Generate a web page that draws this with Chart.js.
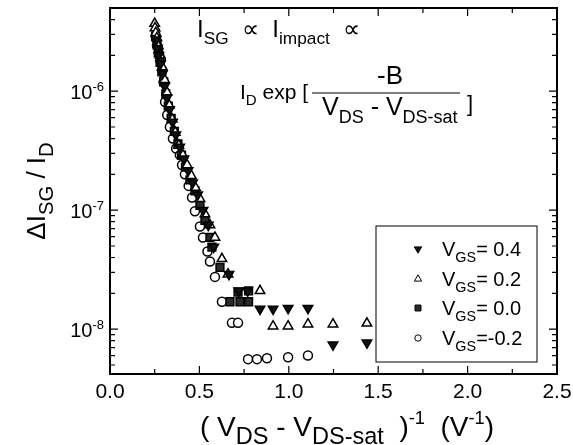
<!DOCTYPE html>
<html>
<head>
<meta charset="utf-8">
<script src="https://cdn.jsdelivr.net/npm/chart.js@4/dist/chart.umd.min.js"></script>
<style>
  html, body { margin: 0; padding: 0; background: #fff; }
  #wrap { width: 573px; height: 445px; }
</style>
</head>
<body>
<div id="wrap"><canvas id="chart" width="573" height="445"></canvas></div>
<script>
// data
var xTicks = [0, 0.5, 1.0, 1.5, 2.0, 2.5];
var xTickLabels = ['0.0', '0.5', '1.0', '1.5', '2.0', '2.5'];
var yTicks = [1e-8, 1e-7, 1e-6];
var yTickExps = ['-8', '-7', '-6'];

var vgs04X = [0.258, 0.265, 0.272, 0.282, 0.293, 0.305, 0.318, 0.333, 0.350, 0.368, 0.390, 0.413, 0.437, 0.462, 0.490, 0.520, 0.550, 0.580, 0.665, 0.720, 0.770, 0.839, 0.912, 0.996, 1.107, 1.247, 1.437];
var vgs04Y = [2.7e-6, 2.3e-6, 2.0e-6, 1.7e-6, 1.4e-6, 1.1e-6, 8.8e-7, 7.0e-7, 5.5e-7, 4.3e-7, 3.4e-7, 2.7e-7, 2.15e-7, 1.7e-7, 1.35e-7, 1.0e-7, 7.5e-8, 4.9e-8, 2.9e-8, 2.1e-8, 2.1e-8, 1.48e-8, 1.48e-8, 1.5e-8, 1.5e-8, 7.4e-9, 7.7e-9];

var vgs02X = [0.250, 0.252, 0.256, 0.262, 0.270, 0.280, 0.292, 0.305, 0.318, 0.332, 0.348, 0.365, 0.385, 0.408, 0.431, 0.455, 0.478, 0.503, 0.531, 0.559, 0.587, 0.626, 0.660, 0.839, 0.912, 0.996, 1.107, 1.247, 1.437];
var vgs02Y = [3.7e-6, 3.4e-6, 3.1e-6, 2.8e-6, 2.4e-6, 2.0e-6, 1.6e-6, 1.25e-6, 9.8e-7, 7.6e-7, 5.8e-7, 4.5e-7, 3.5e-7, 2.9e-7, 2.4e-7, 1.95e-7, 1.55e-7, 1.25e-7, 9.3e-8, 7.5e-8, 5.9e-8, 3.9e-8, 2.9e-8, 2.1e-8, 1.06e-8, 1.06e-8, 1.1e-8, 1.1e-8, 1.12e-8];

var vgs00X = [0.255, 0.262, 0.270, 0.280, 0.290, 0.300, 0.312, 0.326, 0.342, 0.360, 0.380, 0.400, 0.422, 0.447, 0.475, 0.503, 0.531, 0.559, 0.570, 0.615, 0.671, 0.716, 0.727, 0.775, 0.775];
var vgs00Y = [2.9e-6, 2.5e-6, 2.1e-6, 1.75e-6, 1.45e-6, 1.2e-6, 9.5e-7, 7.5e-7, 5.9e-7, 4.6e-7, 3.6e-7, 2.9e-7, 2.3e-7, 1.8e-7, 1.45e-7, 1.1e-7, 8.2e-8, 5.9e-8, 4.9e-8, 3.3e-8, 1.7e-8, 2.05e-8, 1.7e-8, 1.7e-8, 2.1e-8];

var vgsm02X = [0.265, 0.275, 0.285, 0.292, 0.300, 0.308, 0.320, 0.335, 0.352, 0.370, 0.391, 0.403, 0.419, 0.440, 0.459, 0.475, 0.503, 0.520, 0.545, 0.559, 0.587, 0.626, 0.682, 0.716, 0.772, 0.822, 0.878, 0.996, 1.107];
var vgsm02Y = [2.4e-6, 2.05e-6, 1.85e-6, 1.5e-6, 1.2e-6, 8.1e-7, 6.3e-7, 5.0e-7, 4.0e-7, 3.3e-7, 2.9e-7, 2.4e-7, 2.0e-7, 1.6e-7, 1.28e-7, 9.8e-8, 7.3e-8, 5.9e-8, 4.5e-8, 3.7e-8, 2.75e-8, 1.7e-8, 1.13e-8, 1.13e-8, 5.6e-9, 5.6e-9, 5.7e-9, 5.8e-9, 6.0e-9];

var FONT = "'Liberation Sans', Arial, sans-serif";

function pts(xs, ys) {
  var out = [];
  for (var i = 0; i < xs.length; i++) out.push({ x: xs[i], y: ys[i] });
  return out;
}

var series = [
  { label: '0.4', data: pts(vgs04X, vgs04Y), pointStyle: 'triangle', rotation: 180, pointRadius: 5.5, backgroundColor: '#111', borderColor: '#000' },
  { label: '0.2', data: pts(vgs02X, vgs02Y), pointStyle: 'triangle', rotation: 0, pointRadius: 5.5, backgroundColor: '#fff', borderColor: '#000' },
  { label: '0.0', data: pts(vgs00X, vgs00Y), pointStyle: 'rect', rotation: 0, pointRadius: 5.5, backgroundColor: '#2a2a2a', borderColor: '#000' },
  { label: '-0.2', data: pts(vgsm02X, vgsm02Y), pointStyle: 'circle', rotation: 0, pointRadius: 4.5, backgroundColor: '#fff', borderColor: '#000' }
];
series.forEach(function (s) {
  s.showLine = false;
  s.borderWidth = 1.5;
  s.pointHoverRadius = s.pointRadius;
});

// draw a row of text pieces: n = normal, sub = subscript, sup = superscript
function runs(ctx, parts, x, y, size, subk) {
  subk = subk || 0.72;
  ctx.textBaseline = 'alphabetic';
  ctx.textAlign = 'left';
  for (var i = 0; i < parts.length; i++) {
    var p = parts[i];
    var fs = size, dy = 0;
    if (p[1] == 'sub') { fs = size * subk; dy = size * 0.3; }
    if (p[1] == 'sup') { fs = size * 0.65; dy = -size * 0.42; }
    ctx.font = fs + 'px ' + FONT;
    ctx.fillText(p[0], x, y + dy);
    x += ctx.measureText(p[0]).width;
  }
  return x;
}
function runsWidth(ctx, parts, size, subk) {
  subk = subk || 0.72;
  var w = 0;
  for (var i = 0; i < parts.length; i++) {
    var p = parts[i];
    var fs = size;
    if (p[1] == 'sub') fs = size * subk;
    if (p[1] == 'sup') fs = size * 0.65;
    ctx.font = fs + 'px ' + FONT;
    w += ctx.measureText(p[0]).width;
  }
  return w;
}

var decorPlugin = {
  id: 'decor',
  afterDatasetsDraw: function (chart) {
    var ctx = chart.ctx;
    var a = chart.chartArea;
    var xs = chart.scales.x, ys = chart.scales.y;
    ctx.save();
    ctx.strokeStyle = '#000';
    ctx.fillStyle = '#000';

    // frame
    ctx.lineWidth = 2;
    ctx.strokeRect(a.left, a.top, a.right - a.left, a.bottom - a.top);

    // inward ticks, all four sides
    ctx.lineWidth = 1.2;
    ctx.beginPath();
    for (var v = 0; v <= 2.5001; v += 0.25) {
      var px = xs.getPixelForValue(v);
      var major = Math.abs(v * 2 - Math.round(v * 2)) < 1e-6;
      var len = major ? 8 : 5;
      ctx.moveTo(px, a.bottom); ctx.lineTo(px, a.bottom - len);
      ctx.moveTo(px, a.top); ctx.lineTo(px, a.top + len);
    }
    for (var e = -9; e <= -6; e++) {
      for (var m = 1; m <= 9; m++) {
        var val = m * Math.pow(10, e);
        if (val < ys.min || val > ys.max) continue;
        var py = ys.getPixelForValue(val);
        var l2 = m == 1 ? 8 : 5;
        ctx.moveTo(a.left, py); ctx.lineTo(a.left + l2, py);
        ctx.moveTo(a.right, py); ctx.lineTo(a.right - l2, py);
      }
    }
    ctx.stroke();

    // x tick labels
    ctx.font = '21px ' + FONT;
    ctx.textAlign = 'center';
    ctx.textBaseline = 'top';
    for (var i = 0; i < xTicks.length; i++) {
      ctx.fillText(xTickLabels[i], xs.getPixelForValue(xTicks[i]), a.bottom + 8);
    }
    // y tick labels 10^n
    for (var j = 0; j < yTicks.length; j++) {
      var yy = ys.getPixelForValue(yTicks[j]);
      var parts = [['10', 'n'], [yTickExps[j], 'sup']];
      var w = runsWidth(ctx, parts, 20);
      runs(ctx, parts, a.left - 6 - w, yy + 8, 20);
    }

    // axis titles
    runs(ctx, [['( V', 'n'], ['DS', 'sub'], [' - V', 'n'], ['DS-sat', 'sub'], ['  )', 'n'], ['-1', 'sup'], ['  (V', 'n'], ['-1', 'sup'], [')', 'n']], 200, 436, 28, 0.84);

    ctx.save();
    ctx.translate(45, (a.top + a.bottom) / 2);
    ctx.rotate(-Math.PI / 2);
    var yt = [['\u0394I', 'n'], ['SG', 'sub'], [' / I', 'n'], ['D', 'sub']];
    runs(ctx, yt, -runsWidth(ctx, yt, 26, 0.78) / 2, 0, 26, 0.78);
    ctx.restore();

    // formula annotation
    runs(ctx, [['I', 'n'], ['SG', 'sub'], ['  \u221D  I', 'n'], ['impact', 'sub'], ['  \u221D', 'n']], 197, 37, 24);
    runs(ctx, [['I', 'n'], ['D', 'sub'], [' exp [', 'n']], 240, 99, 21);
    ctx.font = '26px ' + FONT;
    ctx.textAlign = 'center';
    ctx.fillText('-B', 390, 84);
    ctx.lineWidth = 1;
    ctx.beginPath();
    ctx.moveTo(312, 93); ctx.lineTo(460, 93);
    ctx.stroke();
    runs(ctx, [['V', 'n'], ['DS', 'sub'], [' - V', 'n'], ['DS-sat', 'sub']], 322, 115, 25);
    ctx.font = '22px ' + FONT;
    ctx.textAlign = 'left';
    ctx.fillText(']', 467, 111);

    // legend box
    var lx = 376, ly = 226, lw = 161, lh = 136;
    ctx.lineWidth = 1;
    ctx.strokeRect(lx, ly, lw, lh);
    var rowsY = [249, 279, 308, 338];
    for (var k = 0; k < series.length; k++) {
      var s = series[k];
      ctx.strokeStyle = '#000';
      ctx.fillStyle = s.backgroundColor;
      Chart.helpers.drawPoint(ctx, { pointStyle: s.pointStyle, rotation: s.rotation, radius: s.pointStyle == 'circle' ? 3.2 : 4.2, borderWidth: 1.3 }, 418, rowsY[k]);
      ctx.fillStyle = '#000';
      var endX = runs(ctx, [['V', 'n'], ['GS', 'sub'], ['=', 'n']], 442, rowsY[k] + 7, 20);
      ctx.font = '20px ' + FONT;
      ctx.textAlign = 'left';
      ctx.fillText((s.label.charAt(0) == '-' ? '' : ' ') + s.label, endX, rowsY[k] + 7);
    }
    ctx.restore();
  }
};

var ctx = document.getElementById('chart');
var chart = new Chart(ctx, {
  type: 'scatter',
  data: { datasets: series },
  options: {
    responsive: false,
    animation: false,
    events: [],
    layout: { padding: { left: 110, right: 16, top: 8, bottom: 71 } },
    plugins: { legend: { display: false }, tooltip: { enabled: false } },
    scales: {
      x: {
        type: 'linear', min: 0, max: 2.5,
        ticks: { display: false },
        grid: { display: false, drawTicks: false },
        border: { display: false }
      },
      y: {
        type: 'logarithmic', min: 4.2e-9, max: 5e-6,
        ticks: { display: false },
        grid: { display: false, drawTicks: false },
        border: { display: false }
      }
    }
  },
  plugins: [decorPlugin]
});
</script>
</body>
</html>
